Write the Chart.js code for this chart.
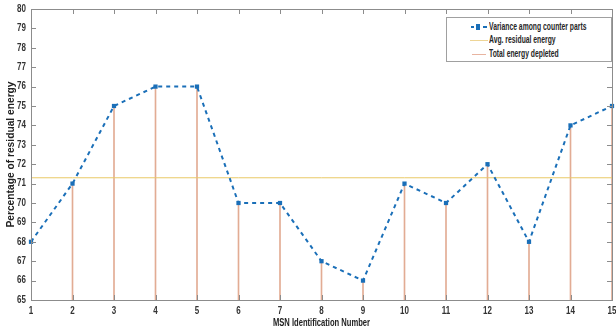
<!DOCTYPE html>
<html>
<head>
<meta charset="utf-8">
<script src="https://cdn.jsdelivr.net/npm/chart.js@4"></script>
<style>
body{margin:0;background:#fff;overflow:hidden;}
#wrap{position:relative;width:616px;height:334px;}
#legend{position:absolute;left:446px;top:17px;width:166px;height:45px;border:1px solid #a0a0a0;background:#fff;
font-family:"Liberation Sans",Arial,sans-serif;font-size:10px;font-weight:bold;color:#262626;box-sizing:border-box;}
.row{position:absolute;left:0;width:164px;height:12px;}
.ln{position:absolute;left:23px;width:18px;top:6px;height:0;}
.txt{position:absolute;left:42px;top:0;line-height:12px;white-space:nowrap;transform:scaleX(0.68);transform-origin:0 50%;}
</style>
</head>
<body>
<div id="wrap">
<canvas id="chart" width="616" height="334"></canvas>
<div id="legend">
<div class="row" style="top:3px">
<div style="position:absolute;left:24px;top:5px;width:3px;height:2px;background:#1a6fb8"></div>
<div style="position:absolute;left:29px;top:3px;width:4px;height:6px;background:#1a6fb8"></div>
<div style="position:absolute;left:36px;top:5px;width:4px;height:2px;background:#1a6fb8"></div>
<div class="txt">Variance among counter parts</div>
</div>
<div class="row" style="top:16px">
<div class="ln" style="border-top:1px solid #eed596"></div>
<div class="txt">Avg. residual energy</div>
</div>
<div class="row" style="top:30px">
<div class="ln" style="left:25px;width:14px;border-top:1px solid #e8b4a0"></div>
<div class="txt">Total energy depleted</div>
</div>
</div>
</div>
<script>
const msnLabels=["1","2","3","4","5","6","7","8","9","10","11","12","13","14","15"];
const residual=[68,71,75,76,76,70,70,67,66,71,70,72,68,74,75];
const avgResidual=71.3;
const yMin=65,yMax=80;
const yTicks=[65,66,67,68,69,70,71,72,73,74,75,76,77,78,79,80];

const fontName='"Liberation Sans",Arial,sans-serif';

function narrowText(ctx,text,x,y,align,sx,rot){
ctx.save();
ctx.translate(x,y);
if(rot) ctx.rotate(rot);
ctx.scale(sx,1);
ctx.textAlign=align;
ctx.textBaseline="middle";
ctx.fillText(text,0,0);
ctx.restore();
}

// inward tick marks, box and the condensed labels (matlab look)
const boxTicks={
id:"boxTicks",
afterDraw(chart){
const ctx=chart.ctx,a=chart.chartArea;
const xs=chart.scales.x,ys=chart.scales.y;
ctx.save();
ctx.strokeStyle="#8c8c8c";
ctx.lineWidth=1;
ctx.beginPath();
yTicks.forEach(v=>{
const p=Math.round(ys.getPixelForValue(v))+0.5;
ctx.moveTo(a.left,p);ctx.lineTo(a.left+5,p);
ctx.moveTo(a.right,p);ctx.lineTo(a.right-5,p);
});
for(let i=0;i<msnLabels.length;i++){
const p=Math.round(xs.getPixelForValue(i))+0.5;
ctx.moveTo(p,a.top);ctx.lineTo(p,a.top+5);
ctx.moveTo(p,a.bottom);ctx.lineTo(p,a.bottom-5);
}
ctx.stroke();
ctx.strokeRect(Math.round(a.left)+0.5,Math.round(a.top)+0.5,Math.round(a.right-a.left),Math.round(a.bottom-a.top));

ctx.fillStyle="#333";
ctx.font="bold 10px "+fontName;
yTicks.forEach(v=>{
narrowText(ctx,String(v),26,ys.getPixelForValue(v),"right",0.8);
});
msnLabels.forEach((lab,i)=>{
narrowText(ctx,lab,xs.getPixelForValue(i),311,"center",0.8);
});

ctx.fillStyle="#222";
ctx.font="bold 10px "+fontName;
narrowText(ctx,"MSN Identification Number",(a.left+a.right)/2,323,"center",0.76);
ctx.font="bold 11px "+fontName;
narrowText(ctx,"Percentage of residual energy",11,(a.top+a.bottom)/2,"center",0.93,-Math.PI/2);
ctx.restore();
}
};

new Chart(document.getElementById("chart"),{
data:{
labels:msnLabels,
datasets:[
{
type:"line",
label:"Variance among counter parts",
data:residual,
borderColor:"#1a6fb8",
backgroundColor:"#1a6fb8",
borderWidth:2,
borderDash:[4,4],
pointStyle:"rect",
pointRadius:3,
pointBorderWidth:0,
tension:0,
order:0
},
{
type:"line",
label:"Avg. residual energy",
data:msnLabels.map(()=>avgResidual),
borderColor:"#e9c966",
borderWidth:1,
pointRadius:0,
order:1
},
{
type:"bar",
label:"Total energy depleted",
data:residual.map(v=>[yMin,v]),
backgroundColor:"#e2ac94",
barThickness:1,
order:2
}
]
},
options:{
responsive:false,
animation:false,
layout:{padding:{left:0,right:1,top:9,bottom:0}},
plugins:{
legend:{display:false},
tooltip:{enabled:false}
},
scales:{
x:{
offset:false,
grid:{display:false,drawTicks:false},
border:{display:false},
ticks:{display:false},
afterFit(s){s.height=34;}
},
y:{
min:yMin,
max:yMax,
grid:{display:false,drawTicks:false},
border:{display:false},
ticks:{display:false,stepSize:1},
afterFit(s){s.width=31;}
}
}
},
plugins:[boxTicks]
});
</script>
</body>
</html>
